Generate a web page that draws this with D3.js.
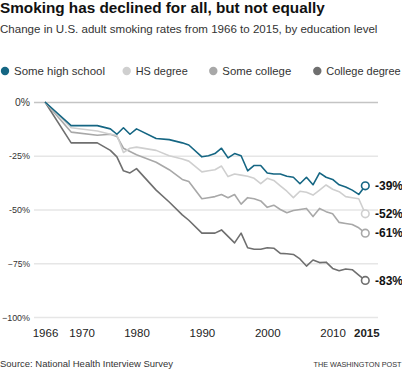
<!DOCTYPE html>
<html>
<head>
<meta charset="utf-8">
<script src="https://cdn.jsdelivr.net/npm/d3@7"></script>
<style>
  html, body { margin: 0; padding: 0; background: #fff; }
  svg { display: block; font-family: "Liberation Sans", Arial, sans-serif; }
</style>
</head>
<body>
<svg id="chart" width="402" height="369"></svg>
<script>
// ---------------- DATA ----------------
const years = [1966,1970,1974,1976,1977,1978,1979,1980,1983,1985,1987,1988,1990,1991,1992,1993,1994,1995,1996,1997,1998,1999,2000,2001,2002,2003,2004,2005,2006,2007,2008,2009,2010,2011,2012,2013,2014,2015];

const someHighSchool = [0,-11,-11,-12.5,-15,-12,-15,-12.5,-17,-17.5,-19,-20,-25.5,-25,-24,-21.5,-26,-24,-25,-32,-29.5,-29.5,-33,-33.5,-33.5,-34.5,-35,-38,-35,-38.5,-33,-35,-36,-38.5,-39.5,-41,-43,-39];
const hsDegree = [0,-12,-13.5,-15,-15.5,-23.5,-21.5,-21,-22.5,-25,-26.5,-27.5,-32.5,-32,-31.5,-29.8,-34.7,-33.5,-34,-34.5,-35.5,-38,-35.5,-36.5,-39,-41.5,-44.5,-41.5,-42,-43.3,-41,-38.6,-40.6,-41.7,-44,-44.5,-45,-52];
const someCollege = [0,-14,-15.5,-15,-16,-21.5,-23,-24.5,-28,-31.5,-36,-37,-45,-44.5,-44,-43,-44.5,-43,-47.5,-44.5,-45,-46,-49,-48,-50,-51.5,-50.5,-50,-49.5,-53.3,-49.5,-51,-52,-56,-56.5,-57,-58.5,-61];
const collegeDegree = [0,-19,-19,-22.5,-25.5,-32,-33,-31,-41,-46.5,-52.5,-55,-61,-61,-61,-59.5,-62.5,-65.5,-61,-67.8,-68.5,-68.5,-67.8,-68,-70.4,-70.6,-70.9,-73,-76.3,-73.5,-74.7,-74.5,-77.4,-78.5,-77.7,-78,-80.5,-83];

const seriesNames = ["Some high school", "HS degree", "Some college", "College degree"];
const endLabels = ["-39%", "-52%", "-61%", "-83%"];
const yTickValues = [0, -25, -50, -75, -100];
const yTickLabels = ["0%", "-25%", "-50%", "\u221275%", "\u2212100%"];
const xTickValues = [1966, 1970, 1980, 1990, 2000, 2010, 2015];

const titleText = "Smoking has declined for all, but not equally";
const subtitleText = "Change in U.S. adult smoking rates from 1966 to 2015, by education level";
const sourceText = "Source: National Health Interview Survey";
const creditText = "THE WASHINGTON POST";

// ---------------- STYLE ----------------
const colors = ["#156683", "#cfcfcf", "#a8a8a8", "#6f6f6f"];
const seriesValues = [someHighSchool, hsDegree, someCollege, collegeDegree];

const svg = d3.select("#chart");

// fit helper: scale font-size so text width equals target
function fitWidth(sel, target) {
  const node = sel.node();
  const fs = parseFloat(sel.attr("font-size"));
  const w = node.getComputedTextLength();
  if (w > 0) sel.attr("font-size", (fs * target / w).toFixed(2));
}

// Title / subtitle
const title = svg.append("text").attr("x", 0).attr("y", 12.5)
  .attr("font-size", 15).attr("font-weight", "bold").attr("fill", "#111")
  .text(titleText);
fitWidth(title, 325);

const subtitle = svg.append("text").attr("x", 0).attr("y", 33)
  .attr("font-size", 12).attr("fill", "#333")
  .text(subtitleText);
fitWidth(subtitle, 378);

// Legend
const legendX = [5, 126.7, 213.3, 317.3];
const legendW = [91, 52, 69, 74.5];
const lg = svg.append("g");
seriesNames.forEach((name, i) => {
  lg.append("circle").attr("cx", legendX[i]).attr("cy", 71).attr("r", 4.2).attr("fill", colors[i]);
  const t = lg.append("text").attr("x", legendX[i] + 9).attr("y", 75.3)
    .attr("font-size", 12).attr("fill", "#333").text(name);
  fitWidth(t, legendW[i]);
});

// Scales
const x = d3.scaleLinear().domain([1966, 2015]).range([45, 365.3]);
const y = d3.scaleLinear().domain([0, -100]).range([102, 317]);
const gridLeft = 34, gridRight = 378;

// Y axis with gridlines
const yAxis = svg.append("g").attr("transform", `translate(${gridLeft},0)`)
  .call(d3.axisLeft(y).tickValues(yTickValues).tickSize(-(gridRight - gridLeft)).tickPadding(4)
    .tickFormat((d) => yTickLabels[yTickValues.indexOf(d)]));
yAxis.select(".domain").remove();
yAxis.selectAll(".tick line").attr("stroke", (d) => d === 0 ? "#c4c4c4" : "#e6e6e6").attr("stroke-width", 1.5);
yAxis.selectAll(".tick text").attr("font-size", 11).attr("fill", "#333")
  .attr("font-family", "\"Liberation Sans\", Arial, sans-serif").attr("dy", "0.35em");
yAxis.selectAll(".tick text").each(function(d) {
  const s = d3.select(this);
  const w = this.getComputedTextLength();
  const targets = {"0": 15, "-25": 21, "-50": 21, "-75": 22, "-100": 28};
  const tw = targets[String(d)];
  if (tw) s.attr("font-size", (11 * Math.min(1, tw / w)).toFixed(2));
});

// X axis
const xAxis = svg.append("g").attr("transform", `translate(0,${y(-100)})`)
  .call(d3.axisBottom(x).tickValues(xTickValues).tickSize(0).tickPadding(0).tickFormat(d3.format("d")));
xAxis.select(".domain").remove();
xAxis.selectAll(".tick text")
  .attr("font-family", "\"Liberation Sans\", Arial, sans-serif")
  .attr("font-size", 11.5).attr("fill", "#222").attr("dy", 0).attr("y", 19.5)
  .attr("font-weight", (d) => d === 2015 ? "bold" : "normal")
  .attr("dx", (d) => d === 1970 ? 10.5 : (d === 2015 ? 1 : 0));

// Lines
const line = d3.line().x((d) => x(d[0])).y((d) => y(d[1]));
const order = [3, 2, 1, 0];
order.forEach((i) => {
  const pts = years.map((yr, k) => [yr, seriesValues[i][k]]);
  svg.append("path").datum(pts).attr("d", line)
    .attr("fill", "none").attr("stroke", colors[i]).attr("stroke-width", 1.6)
    .attr("stroke-linejoin", "round");
});

// End points + labels
seriesValues.forEach((vals, i) => {
  const last = vals[vals.length - 1];
  const yr = years[years.length - 1];
  svg.append("circle").attr("cx", x(yr)).attr("cy", y(last)).attr("r", 3.8)
    .attr("fill", "#fff").attr("stroke", colors[i]).attr("stroke-width", 1.6);
  svg.append("text").attr("x", 375).attr("y", y(last) + 4.3)
    .attr("font-size", 12).attr("font-weight", "bold").attr("fill", "#111")
    .text(endLabels[i]);
});

// Footer
const src = svg.append("text").attr("x", 0).attr("y", 366.5)
  .attr("font-size", 10.5).attr("fill", "#333").text(sourceText);
fitWidth(src, 173);
const cred = svg.append("text").attr("x", 401.5).attr("y", 366.5).attr("text-anchor", "end")
  .attr("font-size", 9).attr("fill", "#333").text(creditText);
fitWidth(cred, 88);
</script>
</body>
</html>
